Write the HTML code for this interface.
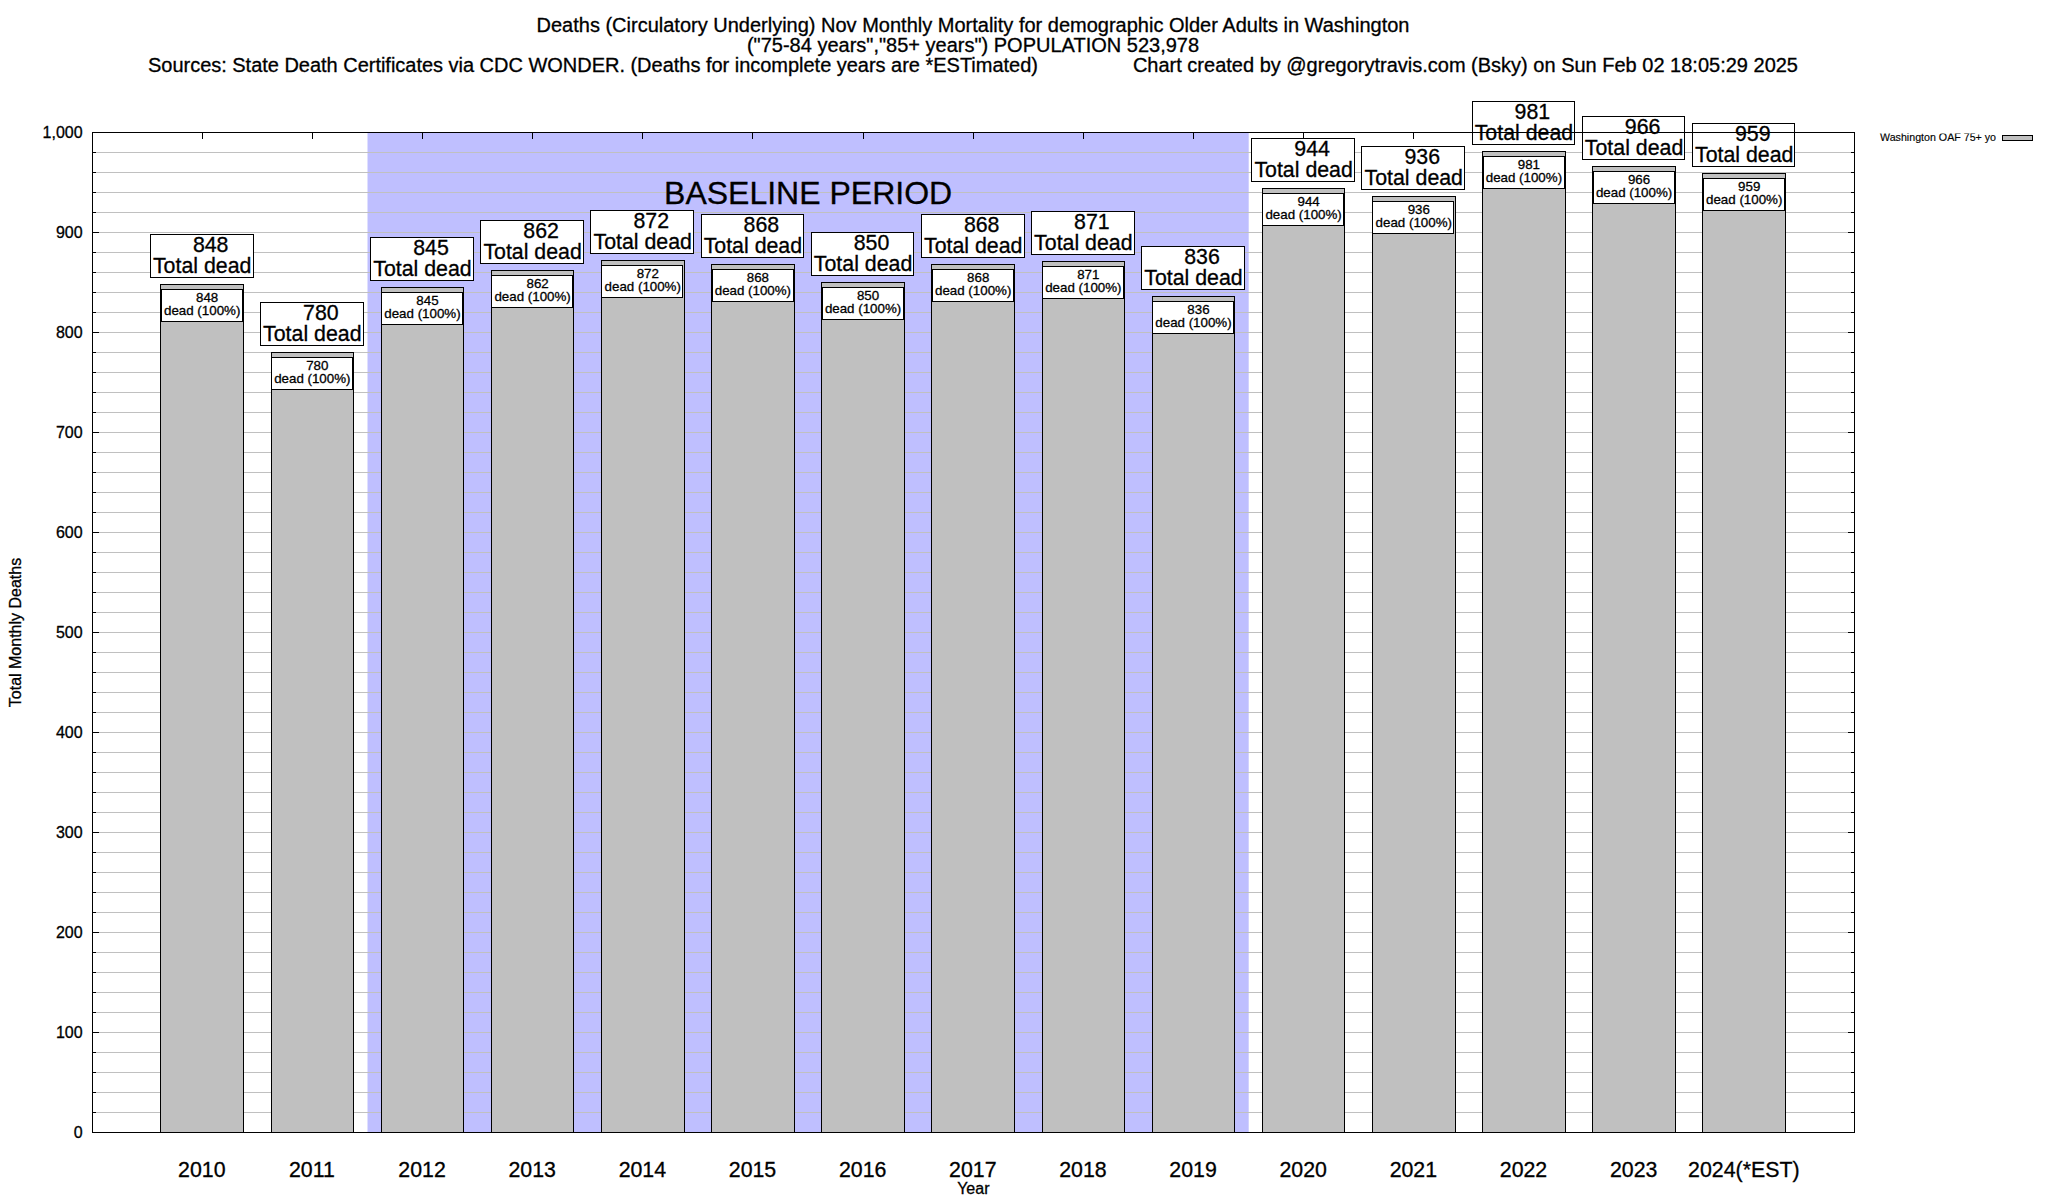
<!DOCTYPE html>
<html lang="en"><head><meta charset="utf-8"><title>Deaths (Circulatory Underlying) Nov Monthly Mortality</title>
<style>html,body{margin:0;padding:0;background:#fff}body{width:2048px;height:1200px;overflow:hidden}svg{display:block}text{font-family:"Liberation Sans", Arial, Helvetica, sans-serif;fill:#000;stroke:#000;stroke-width:.3px}.c{shape-rendering:crispEdges}</style></head><body>
<svg width="2048" height="1200" viewBox="0 0 2048 1200">
<rect x="0" y="0" width="2048" height="1200" fill="#fff"/>
<rect x="367.5" y="132.5" width="881.2" height="1000" fill="#bfbfff"/>
<g class="c" stroke="#c0c0c0" stroke-width="1">
<line x1="92.5" y1="1112.5" x2="1854.5" y2="1112.5"/>
<line x1="92.5" y1="1092.5" x2="1854.5" y2="1092.5"/>
<line x1="92.5" y1="1072.5" x2="1854.5" y2="1072.5"/>
<line x1="92.5" y1="1052.5" x2="1854.5" y2="1052.5"/>
<line x1="92.5" y1="1032.5" x2="1854.5" y2="1032.5"/>
<line x1="92.5" y1="1012.5" x2="1854.5" y2="1012.5"/>
<line x1="92.5" y1="992.5" x2="1854.5" y2="992.5"/>
<line x1="92.5" y1="972.5" x2="1854.5" y2="972.5"/>
<line x1="92.5" y1="952.5" x2="1854.5" y2="952.5"/>
<line x1="92.5" y1="932.5" x2="1854.5" y2="932.5"/>
<line x1="92.5" y1="912.5" x2="1854.5" y2="912.5"/>
<line x1="92.5" y1="892.5" x2="1854.5" y2="892.5"/>
<line x1="92.5" y1="872.5" x2="1854.5" y2="872.5"/>
<line x1="92.5" y1="852.5" x2="1854.5" y2="852.5"/>
<line x1="92.5" y1="832.5" x2="1854.5" y2="832.5"/>
<line x1="92.5" y1="812.5" x2="1854.5" y2="812.5"/>
<line x1="92.5" y1="792.5" x2="1854.5" y2="792.5"/>
<line x1="92.5" y1="772.5" x2="1854.5" y2="772.5"/>
<line x1="92.5" y1="752.5" x2="1854.5" y2="752.5"/>
<line x1="92.5" y1="732.5" x2="1854.5" y2="732.5"/>
<line x1="92.5" y1="712.5" x2="1854.5" y2="712.5"/>
<line x1="92.5" y1="692.5" x2="1854.5" y2="692.5"/>
<line x1="92.5" y1="672.5" x2="1854.5" y2="672.5"/>
<line x1="92.5" y1="652.5" x2="1854.5" y2="652.5"/>
<line x1="92.5" y1="632.5" x2="1854.5" y2="632.5"/>
<line x1="92.5" y1="612.5" x2="1854.5" y2="612.5"/>
<line x1="92.5" y1="592.5" x2="1854.5" y2="592.5"/>
<line x1="92.5" y1="572.5" x2="1854.5" y2="572.5"/>
<line x1="92.5" y1="552.5" x2="1854.5" y2="552.5"/>
<line x1="92.5" y1="532.5" x2="1854.5" y2="532.5"/>
<line x1="92.5" y1="512.5" x2="1854.5" y2="512.5"/>
<line x1="92.5" y1="492.5" x2="1854.5" y2="492.5"/>
<line x1="92.5" y1="472.5" x2="1854.5" y2="472.5"/>
<line x1="92.5" y1="452.5" x2="1854.5" y2="452.5"/>
<line x1="92.5" y1="432.5" x2="1854.5" y2="432.5"/>
<line x1="92.5" y1="412.5" x2="1854.5" y2="412.5"/>
<line x1="92.5" y1="392.5" x2="1854.5" y2="392.5"/>
<line x1="92.5" y1="372.5" x2="1854.5" y2="372.5"/>
<line x1="92.5" y1="352.5" x2="1854.5" y2="352.5"/>
<line x1="92.5" y1="332.5" x2="1854.5" y2="332.5"/>
<line x1="92.5" y1="312.5" x2="1854.5" y2="312.5"/>
<line x1="92.5" y1="292.5" x2="1854.5" y2="292.5"/>
<line x1="92.5" y1="272.5" x2="1854.5" y2="272.5"/>
<line x1="92.5" y1="252.5" x2="1854.5" y2="252.5"/>
<line x1="92.5" y1="232.5" x2="1854.5" y2="232.5"/>
<line x1="92.5" y1="212.5" x2="1854.5" y2="212.5"/>
<line x1="92.5" y1="192.5" x2="1854.5" y2="192.5"/>
<line x1="92.5" y1="172.5" x2="1854.5" y2="172.5"/>
<line x1="92.5" y1="152.5" x2="1854.5" y2="152.5"/>
</g>
<g class="c" stroke="#000" stroke-width="1">
<line x1="92.5" y1="1112.5" x2="96" y2="1112.5"/>
<line x1="1851" y1="1112.5" x2="1854.5" y2="1112.5"/>
<line x1="92.5" y1="1092.5" x2="96" y2="1092.5"/>
<line x1="1851" y1="1092.5" x2="1854.5" y2="1092.5"/>
<line x1="92.5" y1="1072.5" x2="96" y2="1072.5"/>
<line x1="1851" y1="1072.5" x2="1854.5" y2="1072.5"/>
<line x1="92.5" y1="1052.5" x2="96" y2="1052.5"/>
<line x1="1851" y1="1052.5" x2="1854.5" y2="1052.5"/>
<line x1="92.5" y1="1032.5" x2="99" y2="1032.5"/>
<line x1="1848" y1="1032.5" x2="1854.5" y2="1032.5"/>
<line x1="92.5" y1="1012.5" x2="96" y2="1012.5"/>
<line x1="1851" y1="1012.5" x2="1854.5" y2="1012.5"/>
<line x1="92.5" y1="992.5" x2="96" y2="992.5"/>
<line x1="1851" y1="992.5" x2="1854.5" y2="992.5"/>
<line x1="92.5" y1="972.5" x2="96" y2="972.5"/>
<line x1="1851" y1="972.5" x2="1854.5" y2="972.5"/>
<line x1="92.5" y1="952.5" x2="96" y2="952.5"/>
<line x1="1851" y1="952.5" x2="1854.5" y2="952.5"/>
<line x1="92.5" y1="932.5" x2="99" y2="932.5"/>
<line x1="1848" y1="932.5" x2="1854.5" y2="932.5"/>
<line x1="92.5" y1="912.5" x2="96" y2="912.5"/>
<line x1="1851" y1="912.5" x2="1854.5" y2="912.5"/>
<line x1="92.5" y1="892.5" x2="96" y2="892.5"/>
<line x1="1851" y1="892.5" x2="1854.5" y2="892.5"/>
<line x1="92.5" y1="872.5" x2="96" y2="872.5"/>
<line x1="1851" y1="872.5" x2="1854.5" y2="872.5"/>
<line x1="92.5" y1="852.5" x2="96" y2="852.5"/>
<line x1="1851" y1="852.5" x2="1854.5" y2="852.5"/>
<line x1="92.5" y1="832.5" x2="99" y2="832.5"/>
<line x1="1848" y1="832.5" x2="1854.5" y2="832.5"/>
<line x1="92.5" y1="812.5" x2="96" y2="812.5"/>
<line x1="1851" y1="812.5" x2="1854.5" y2="812.5"/>
<line x1="92.5" y1="792.5" x2="96" y2="792.5"/>
<line x1="1851" y1="792.5" x2="1854.5" y2="792.5"/>
<line x1="92.5" y1="772.5" x2="96" y2="772.5"/>
<line x1="1851" y1="772.5" x2="1854.5" y2="772.5"/>
<line x1="92.5" y1="752.5" x2="96" y2="752.5"/>
<line x1="1851" y1="752.5" x2="1854.5" y2="752.5"/>
<line x1="92.5" y1="732.5" x2="99" y2="732.5"/>
<line x1="1848" y1="732.5" x2="1854.5" y2="732.5"/>
<line x1="92.5" y1="712.5" x2="96" y2="712.5"/>
<line x1="1851" y1="712.5" x2="1854.5" y2="712.5"/>
<line x1="92.5" y1="692.5" x2="96" y2="692.5"/>
<line x1="1851" y1="692.5" x2="1854.5" y2="692.5"/>
<line x1="92.5" y1="672.5" x2="96" y2="672.5"/>
<line x1="1851" y1="672.5" x2="1854.5" y2="672.5"/>
<line x1="92.5" y1="652.5" x2="96" y2="652.5"/>
<line x1="1851" y1="652.5" x2="1854.5" y2="652.5"/>
<line x1="92.5" y1="632.5" x2="99" y2="632.5"/>
<line x1="1848" y1="632.5" x2="1854.5" y2="632.5"/>
<line x1="92.5" y1="612.5" x2="96" y2="612.5"/>
<line x1="1851" y1="612.5" x2="1854.5" y2="612.5"/>
<line x1="92.5" y1="592.5" x2="96" y2="592.5"/>
<line x1="1851" y1="592.5" x2="1854.5" y2="592.5"/>
<line x1="92.5" y1="572.5" x2="96" y2="572.5"/>
<line x1="1851" y1="572.5" x2="1854.5" y2="572.5"/>
<line x1="92.5" y1="552.5" x2="96" y2="552.5"/>
<line x1="1851" y1="552.5" x2="1854.5" y2="552.5"/>
<line x1="92.5" y1="532.5" x2="99" y2="532.5"/>
<line x1="1848" y1="532.5" x2="1854.5" y2="532.5"/>
<line x1="92.5" y1="512.5" x2="96" y2="512.5"/>
<line x1="1851" y1="512.5" x2="1854.5" y2="512.5"/>
<line x1="92.5" y1="492.5" x2="96" y2="492.5"/>
<line x1="1851" y1="492.5" x2="1854.5" y2="492.5"/>
<line x1="92.5" y1="472.5" x2="96" y2="472.5"/>
<line x1="1851" y1="472.5" x2="1854.5" y2="472.5"/>
<line x1="92.5" y1="452.5" x2="96" y2="452.5"/>
<line x1="1851" y1="452.5" x2="1854.5" y2="452.5"/>
<line x1="92.5" y1="432.5" x2="99" y2="432.5"/>
<line x1="1848" y1="432.5" x2="1854.5" y2="432.5"/>
<line x1="92.5" y1="412.5" x2="96" y2="412.5"/>
<line x1="1851" y1="412.5" x2="1854.5" y2="412.5"/>
<line x1="92.5" y1="392.5" x2="96" y2="392.5"/>
<line x1="1851" y1="392.5" x2="1854.5" y2="392.5"/>
<line x1="92.5" y1="372.5" x2="96" y2="372.5"/>
<line x1="1851" y1="372.5" x2="1854.5" y2="372.5"/>
<line x1="92.5" y1="352.5" x2="96" y2="352.5"/>
<line x1="1851" y1="352.5" x2="1854.5" y2="352.5"/>
<line x1="92.5" y1="332.5" x2="99" y2="332.5"/>
<line x1="1848" y1="332.5" x2="1854.5" y2="332.5"/>
<line x1="92.5" y1="312.5" x2="96" y2="312.5"/>
<line x1="1851" y1="312.5" x2="1854.5" y2="312.5"/>
<line x1="92.5" y1="292.5" x2="96" y2="292.5"/>
<line x1="1851" y1="292.5" x2="1854.5" y2="292.5"/>
<line x1="92.5" y1="272.5" x2="96" y2="272.5"/>
<line x1="1851" y1="272.5" x2="1854.5" y2="272.5"/>
<line x1="92.5" y1="252.5" x2="96" y2="252.5"/>
<line x1="1851" y1="252.5" x2="1854.5" y2="252.5"/>
<line x1="92.5" y1="232.5" x2="99" y2="232.5"/>
<line x1="1848" y1="232.5" x2="1854.5" y2="232.5"/>
<line x1="92.5" y1="212.5" x2="96" y2="212.5"/>
<line x1="1851" y1="212.5" x2="1854.5" y2="212.5"/>
<line x1="92.5" y1="192.5" x2="96" y2="192.5"/>
<line x1="1851" y1="192.5" x2="1854.5" y2="192.5"/>
<line x1="92.5" y1="172.5" x2="96" y2="172.5"/>
<line x1="1851" y1="172.5" x2="1854.5" y2="172.5"/>
<line x1="92.5" y1="152.5" x2="96" y2="152.5"/>
<line x1="1851" y1="152.5" x2="1854.5" y2="152.5"/>
<line x1="202.5" y1="132.5" x2="202.5" y2="139"/>
<line x1="312.5" y1="132.5" x2="312.5" y2="139"/>
<line x1="422.5" y1="132.5" x2="422.5" y2="139"/>
<line x1="532.5" y1="132.5" x2="532.5" y2="139"/>
<line x1="642.5" y1="132.5" x2="642.5" y2="139"/>
<line x1="752.5" y1="132.5" x2="752.5" y2="139"/>
<line x1="863.5" y1="132.5" x2="863.5" y2="139"/>
<line x1="973.5" y1="132.5" x2="973.5" y2="139"/>
<line x1="1083.5" y1="132.5" x2="1083.5" y2="139"/>
<line x1="1193.5" y1="132.5" x2="1193.5" y2="139"/>
<line x1="1303.5" y1="132.5" x2="1303.5" y2="139"/>
<line x1="1413.5" y1="132.5" x2="1413.5" y2="139"/>
<line x1="1523.5" y1="132.5" x2="1523.5" y2="139"/>
<line x1="1634.5" y1="132.5" x2="1634.5" y2="139"/>
<line x1="1744.5" y1="132.5" x2="1744.5" y2="139"/>
</g>
<text x="808.1" y="203.7" font-size="32" text-anchor="middle">BASELINE PERIOD</text>
<rect class="c" x="160.5" y="284.5" width="83" height="848" fill="#c0c0c0" stroke="#000" stroke-width="1"/>
<rect class="c" x="271.5" y="352.5" width="82" height="780" fill="#c0c0c0" stroke="#000" stroke-width="1"/>
<rect class="c" x="381.5" y="287.5" width="82" height="845" fill="#c0c0c0" stroke="#000" stroke-width="1"/>
<rect class="c" x="491.5" y="270.5" width="82" height="862" fill="#c0c0c0" stroke="#000" stroke-width="1"/>
<rect class="c" x="601.5" y="260.5" width="83" height="872" fill="#c0c0c0" stroke="#000" stroke-width="1"/>
<rect class="c" x="711.5" y="264.5" width="83" height="868" fill="#c0c0c0" stroke="#000" stroke-width="1"/>
<rect class="c" x="821.5" y="282.5" width="83" height="850" fill="#c0c0c0" stroke="#000" stroke-width="1"/>
<rect class="c" x="931.5" y="264.5" width="83" height="868" fill="#c0c0c0" stroke="#000" stroke-width="1"/>
<rect class="c" x="1042.5" y="261.5" width="82" height="871" fill="#c0c0c0" stroke="#000" stroke-width="1"/>
<rect class="c" x="1152.5" y="296.5" width="82" height="836" fill="#c0c0c0" stroke="#000" stroke-width="1"/>
<rect class="c" x="1262.5" y="188.5" width="82" height="944" fill="#c0c0c0" stroke="#000" stroke-width="1"/>
<rect class="c" x="1372.5" y="196.5" width="83" height="936" fill="#c0c0c0" stroke="#000" stroke-width="1"/>
<rect class="c" x="1482.5" y="151.5" width="83" height="981" fill="#c0c0c0" stroke="#000" stroke-width="1"/>
<rect class="c" x="1592.5" y="166.5" width="83" height="966" fill="#c0c0c0" stroke="#000" stroke-width="1"/>
<rect class="c" x="1702.5" y="173.5" width="83" height="959" fill="#c0c0c0" stroke="#000" stroke-width="1"/>
<rect class="c" x="161.5" y="289.5" width="81" height="32" fill="#fff" stroke="#000" stroke-width="1"/>
<text font-size="13.33" text-anchor="middle"><tspan x="207.18" y="301.8">848</tspan><tspan x="202.18" y="315">dead (100%)</tspan></text>
<rect class="c" x="150.5" y="234.5" width="103" height="43" fill="#fff" stroke="#000" stroke-width="1"/>
<text font-size="21.33" text-anchor="middle"><tspan x="210.68" y="252.3">848</tspan><tspan x="202.18" y="272.9">Total dead</tspan></text>
<rect class="c" x="271.5" y="357.5" width="81" height="32" fill="#fff" stroke="#000" stroke-width="1"/>
<text font-size="13.33" text-anchor="middle"><tspan x="317.32" y="369.8">780</tspan><tspan x="312.32" y="383">dead (100%)</tspan></text>
<rect class="c" x="260.5" y="302.5" width="103" height="43" fill="#fff" stroke="#000" stroke-width="1"/>
<text font-size="21.33" text-anchor="middle"><tspan x="320.82" y="320.3">780</tspan><tspan x="312.32" y="340.9">Total dead</tspan></text>
<rect class="c" x="381.5" y="292.5" width="81" height="32" fill="#fff" stroke="#000" stroke-width="1"/>
<text font-size="13.33" text-anchor="middle"><tspan x="427.47" y="304.8">845</tspan><tspan x="422.47" y="318">dead (100%)</tspan></text>
<rect class="c" x="370.5" y="237.5" width="103" height="43" fill="#fff" stroke="#000" stroke-width="1"/>
<text font-size="21.33" text-anchor="middle"><tspan x="430.97" y="255.3">845</tspan><tspan x="422.47" y="275.9">Total dead</tspan></text>
<rect class="c" x="491.5" y="275.5" width="81" height="32" fill="#fff" stroke="#000" stroke-width="1"/>
<text font-size="13.33" text-anchor="middle"><tspan x="537.62" y="287.8">862</tspan><tspan x="532.62" y="301">dead (100%)</tspan></text>
<rect class="c" x="480.5" y="220.5" width="103" height="43" fill="#fff" stroke="#000" stroke-width="1"/>
<text font-size="21.33" text-anchor="middle"><tspan x="541.12" y="238.3">862</tspan><tspan x="532.62" y="258.9">Total dead</tspan></text>
<rect class="c" x="601.5" y="265.5" width="81" height="32" fill="#fff" stroke="#000" stroke-width="1"/>
<text font-size="13.33" text-anchor="middle"><tspan x="647.76" y="277.8">872</tspan><tspan x="642.76" y="291">dead (100%)</tspan></text>
<rect class="c" x="590.5" y="210.5" width="103" height="43" fill="#fff" stroke="#000" stroke-width="1"/>
<text font-size="21.33" text-anchor="middle"><tspan x="651.26" y="228.3">872</tspan><tspan x="642.76" y="248.9">Total dead</tspan></text>
<rect class="c" x="712.5" y="269.5" width="81" height="32" fill="#fff" stroke="#000" stroke-width="1"/>
<text font-size="13.33" text-anchor="middle"><tspan x="757.9" y="281.8">868</tspan><tspan x="752.9" y="295">dead (100%)</tspan></text>
<rect class="c" x="701.5" y="214.5" width="102" height="43" fill="#fff" stroke="#000" stroke-width="1"/>
<text font-size="21.33" text-anchor="middle"><tspan x="761.4" y="232.3">868</tspan><tspan x="752.9" y="252.9">Total dead</tspan></text>
<rect class="c" x="822.5" y="287.5" width="81" height="32" fill="#fff" stroke="#000" stroke-width="1"/>
<text font-size="13.33" text-anchor="middle"><tspan x="868.05" y="299.8">850</tspan><tspan x="863.05" y="313">dead (100%)</tspan></text>
<rect class="c" x="811.5" y="232.5" width="102" height="43" fill="#fff" stroke="#000" stroke-width="1"/>
<text font-size="21.33" text-anchor="middle"><tspan x="871.55" y="250.3">850</tspan><tspan x="863.05" y="270.9">Total dead</tspan></text>
<rect class="c" x="932.5" y="269.5" width="81" height="32" fill="#fff" stroke="#000" stroke-width="1"/>
<text font-size="13.33" text-anchor="middle"><tspan x="978.19" y="281.8">868</tspan><tspan x="973.19" y="295">dead (100%)</tspan></text>
<rect class="c" x="921.5" y="214.5" width="103" height="43" fill="#fff" stroke="#000" stroke-width="1"/>
<text font-size="21.33" text-anchor="middle"><tspan x="981.69" y="232.3">868</tspan><tspan x="973.19" y="252.9">Total dead</tspan></text>
<rect class="c" x="1042.5" y="266.5" width="81" height="32" fill="#fff" stroke="#000" stroke-width="1"/>
<text font-size="13.33" text-anchor="middle"><tspan x="1088.34" y="278.8">871</tspan><tspan x="1083.34" y="292">dead (100%)</tspan></text>
<rect class="c" x="1031.5" y="211.5" width="103" height="43" fill="#fff" stroke="#000" stroke-width="1"/>
<text font-size="21.33" text-anchor="middle"><tspan x="1091.84" y="229.3">871</tspan><tspan x="1083.34" y="249.9">Total dead</tspan></text>
<rect class="c" x="1152.5" y="301.5" width="81" height="32" fill="#fff" stroke="#000" stroke-width="1"/>
<text font-size="13.33" text-anchor="middle"><tspan x="1198.48" y="313.8">836</tspan><tspan x="1193.48" y="327">dead (100%)</tspan></text>
<rect class="c" x="1141.5" y="246.5" width="103" height="43" fill="#fff" stroke="#000" stroke-width="1"/>
<text font-size="21.33" text-anchor="middle"><tspan x="1201.98" y="264.3">836</tspan><tspan x="1193.48" y="284.9">Total dead</tspan></text>
<rect class="c" x="1262.5" y="193.5" width="81" height="32" fill="#fff" stroke="#000" stroke-width="1"/>
<text font-size="13.33" text-anchor="middle"><tspan x="1308.63" y="205.8">944</tspan><tspan x="1303.63" y="219">dead (100%)</tspan></text>
<rect class="c" x="1251.5" y="138.5" width="103" height="43" fill="#fff" stroke="#000" stroke-width="1"/>
<text font-size="21.33" text-anchor="middle"><tspan x="1312.13" y="156.3">944</tspan><tspan x="1303.63" y="176.9">Total dead</tspan></text>
<rect class="c" x="1372.5" y="201.5" width="81" height="32" fill="#fff" stroke="#000" stroke-width="1"/>
<text font-size="13.33" text-anchor="middle"><tspan x="1418.78" y="213.8">936</tspan><tspan x="1413.78" y="227">dead (100%)</tspan></text>
<rect class="c" x="1361.5" y="146.5" width="103" height="43" fill="#fff" stroke="#000" stroke-width="1"/>
<text font-size="21.33" text-anchor="middle"><tspan x="1422.28" y="164.3">936</tspan><tspan x="1413.78" y="184.9">Total dead</tspan></text>
<rect class="c" x="1483.5" y="156.5" width="81" height="32" fill="#fff" stroke="#000" stroke-width="1"/>
<text font-size="13.33" text-anchor="middle"><tspan x="1528.92" y="168.8">981</tspan><tspan x="1523.92" y="182">dead (100%)</tspan></text>
<rect class="c" x="1472.5" y="101.5" width="102" height="43" fill="#fff" stroke="#000" stroke-width="1"/>
<text font-size="21.33" text-anchor="middle"><tspan x="1532.42" y="119.3">981</tspan><tspan x="1523.92" y="139.9">Total dead</tspan></text>
<rect class="c" x="1593.5" y="171.5" width="81" height="32" fill="#fff" stroke="#000" stroke-width="1"/>
<text font-size="13.33" text-anchor="middle"><tspan x="1639.07" y="183.8">966</tspan><tspan x="1634.07" y="197">dead (100%)</tspan></text>
<rect class="c" x="1582.5" y="116.5" width="102" height="43" fill="#fff" stroke="#000" stroke-width="1"/>
<text font-size="21.33" text-anchor="middle"><tspan x="1642.57" y="134.3">966</tspan><tspan x="1634.07" y="154.9">Total dead</tspan></text>
<rect class="c" x="1703.5" y="178.5" width="81" height="32" fill="#fff" stroke="#000" stroke-width="1"/>
<text font-size="13.33" text-anchor="middle"><tspan x="1749.21" y="190.8">959</tspan><tspan x="1744.21" y="204">dead (100%)</tspan></text>
<rect class="c" x="1692.5" y="123.5" width="102" height="43" fill="#fff" stroke="#000" stroke-width="1"/>
<text font-size="21.33" text-anchor="middle"><tspan x="1752.71" y="141.3">959</tspan><tspan x="1744.21" y="161.9">Total dead</tspan></text>
<rect class="c" x="92.5" y="132.5" width="1762" height="1000" fill="none" stroke="#000" stroke-width="1"/>
<g font-size="16" text-anchor="end">
<text x="82.6" y="1138.3">0</text>
<text x="82.6" y="1038.3">100</text>
<text x="82.6" y="938.3">200</text>
<text x="82.6" y="838.3">300</text>
<text x="82.6" y="738.3">400</text>
<text x="82.6" y="638.3">500</text>
<text x="82.6" y="538.3">600</text>
<text x="82.6" y="438.3">700</text>
<text x="82.6" y="338.3">800</text>
<text x="82.6" y="238.3">900</text>
<text x="82.6" y="138.3">1,000</text>
</g>
<g font-size="21.33" text-anchor="middle">
<text x="201.78" y="1176.9">2010</text>
<text x="311.93" y="1176.9">2011</text>
<text x="422.07" y="1176.9">2012</text>
<text x="532.22" y="1176.9">2013</text>
<text x="642.36" y="1176.9">2014</text>
<text x="752.5" y="1176.9">2015</text>
<text x="862.65" y="1176.9">2016</text>
<text x="972.79" y="1176.9">2017</text>
<text x="1082.94" y="1176.9">2018</text>
<text x="1193.08" y="1176.9">2019</text>
<text x="1303.23" y="1176.9">2020</text>
<text x="1413.38" y="1176.9">2021</text>
<text x="1523.52" y="1176.9">2022</text>
<text x="1633.66" y="1176.9">2023</text>
<text x="1743.81" y="1176.9">2024(*EST)</text>
</g>
<text x="973.3" y="1194.1" font-size="16" text-anchor="middle">Year</text>
<text transform="translate(20.5,632.5) rotate(-90)" font-size="16" text-anchor="middle">Total Monthly Deaths</text>
<g font-size="20">
<text x="973" y="31.6" text-anchor="middle">Deaths (Circulatory Underlying) Nov Monthly Mortality for demographic Older Adults in Washington</text>
<text x="973" y="51.7" text-anchor="middle">(&quot;75-84 years&quot;,&quot;85+ years&quot;) POPULATION 523,978</text>
<text x="148" y="71.8" letter-spacing="-0.02">Sources: State Death Certificates via CDC WONDER. (Deaths for incomplete years are *ESTimated)</text>
<text x="1798" y="71.8" text-anchor="end">Chart created by @gregorytravis.com (Bsky) on Sun Feb 02 18:05:29 2025</text>
</g>
<clipPath id="lc"><rect x="1860" y="133.6" width="188" height="20"/></clipPath>
<text x="1996" y="140.9" font-size="10.67" text-anchor="end" clip-path="url(#lc)" style="stroke-width:.15px">Washington OAF 75+ yo</text>
<rect class="c" x="2002.5" y="135.5" width="30" height="5" fill="#c0c0c0" stroke="#000" stroke-width="1"/>
</svg></body></html>
